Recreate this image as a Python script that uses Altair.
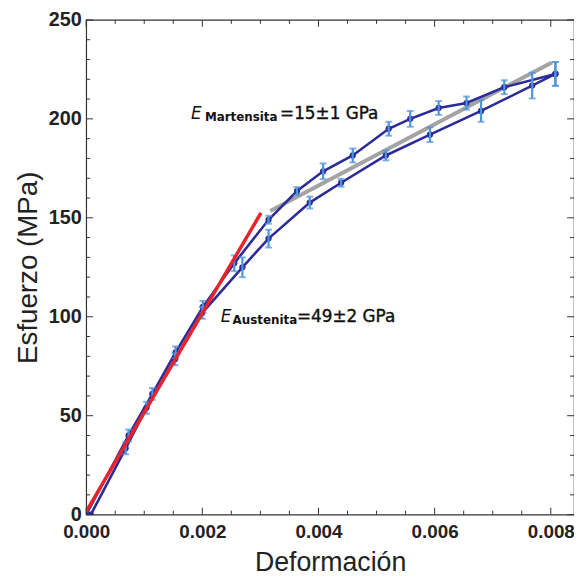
import altair as alt
import pandas as pd

# Loading branch (upper curve) and unloading branch (lower curve)
up_strain = [0.0, 0.00073, 0.00114, 0.00154, 0.00201, 0.00255, 0.00314, 0.00363, 0.00408,
             0.00459, 0.00521, 0.00558, 0.00607, 0.00655, 0.00720, 0.00808]
up_stress = [0, 40, 61, 82, 105, 127, 149, 163.5, 173.5, 181.5, 195, 200, 205.5, 208, 216, 222.7]
up_err = [0, 3, 3, 3, 3, 4, 2, 2, 4, 3.5, 3.5, 4, 3.5, 3.3, 3.5, 6]

low_strain = [0.00808, 0.00768, 0.00680, 0.00592, 0.00516, 0.00439, 0.00385, 0.00314, 0.00269,
              0.00200, 0.00153, 0.00104, 0.00068, 0.00008]
low_stress = [222.7, 216.8, 204, 192, 181.5, 167.7, 157.7, 139.5, 125, 102, 78.5, 54, 33.5, 0]
low_err = [6, 6.5, 5.5, 3.7, 2.5, 2, 3, 4.5, 5, 3, 3, 3, 3, 0]

# Linear fits
aus_strain = [0.0, 0.00301]
aus_stress = [1.5, 152.5]
mar_strain = [0.00317, 0.00802]
mar_stress = [153.5, 228.5]

# Axis ticks
x_major = [0.0, 0.002, 0.004, 0.006, 0.008]
x_minor = [0.0005, 0.001, 0.0015, 0.0025, 0.003, 0.0035, 0.0045, 0.005, 0.0055,
           0.0065, 0.007, 0.0075]
y_major = [0, 50, 100, 150, 200, 250]
y_minor = [10, 20, 30, 40, 60, 70, 80, 90, 110, 120, 130, 140, 160, 170, 180, 190,
           210, 220, 230, 240]

# Annotations: pieces of text (E, subscript, rest)
ann_text = ["E", "Martensita", "=15±1 GPa", "E", "Austenita", "=49±2 GPa"]
ann_x = [0.001806, 0.002044, 0.003339, 0.002317, 0.002521, 0.003629]
ann_y = [200, 199, 200, 97.5, 96.5, 97.5]
ann_kind = ["E", "sub", "rest", "E", "sub", "rest"]

W, H = 493, 500
XDOM = [0, 0.0084]
YDOM = [0, 250]

xs = alt.Scale(domain=XDOM, nice=False, zero=False, padding=0)
ys = alt.Scale(domain=YDOM, nice=False, zero=False, padding=0)

blue = "#2b2c99"
errc = "#4f93d8"

curve = pd.DataFrame({
    "strain": up_strain + low_strain,
    "stress": up_stress + low_stress,
    "err": up_err + low_err,
    "branch": ["carga"] * len(up_strain) + ["descarga"] * len(low_strain),
    "order": list(range(len(up_strain))) + list(range(len(low_strain))),
})
curve["lo"] = curve["stress"] - curve["err"]
curve["hi"] = curve["stress"] + curve["err"]
bars = curve[curve["err"] > 0]

fits = pd.DataFrame({
    "strain": aus_strain + mar_strain,
    "stress": aus_stress + mar_stress,
    "fit": ["A", "A", "M", "M"],
})

xaxis = alt.Axis(values=x_major, format=".3f", ticks=False, domain=False, grid=False,
                 labelFlush=False, labelOverlap=False,
                 labelFont="Liberation Sans", labelFontWeight="bold", labelFontSize=19,
                 labelColor="#222", labelPadding=8,
                 title="Deformación", titleFont="Liberation Sans", titleFontSize=27,
                 titleFontWeight="normal", titleColor="#222", titlePadding=8)
yaxis = alt.Axis(values=y_major, format="d", ticks=False, domain=False, grid=False,
                 labelFlush=False, labelOverlap=False,
                 labelFont="Liberation Sans", labelFontWeight="bold", labelFontSize=20,
                 labelColor="#222", labelPadding=5,
                 title="Esfuerzo (MPa)", titleFont="Liberation Sans", titleFontSize=28,
                 titleFontWeight="normal", titleColor="#222", titlePadding=6)

base = alt.Chart(curve)

gray = alt.Chart(fits[fits["fit"] == "M"]).mark_line(color="#a3a3a3", strokeWidth=4, clip=True).encode(
    x=alt.X("strain:Q", scale=xs, axis=xaxis),
    y=alt.Y("stress:Q", scale=ys, axis=yaxis),
)
red = alt.Chart(fits[fits["fit"] == "A"]).mark_line(color="#e8232b", strokeWidth=3.5, clip=True).encode(
    x=alt.X("strain:Q", scale=xs),
    y=alt.Y("stress:Q", scale=ys),
)

lines = base.mark_line(color=blue, strokeWidth=2.6, clip=True).encode(
    x=alt.X("strain:Q", scale=xs),
    y=alt.Y("stress:Q", scale=ys),
    detail="branch:N",
    order="order:Q",
)
pts = base.mark_circle(color=blue, size=40, opacity=1, clip=True).encode(
    x=alt.X("strain:Q", scale=xs),
    y=alt.Y("stress:Q", scale=ys),
)
ebar = alt.Chart(bars).mark_rule(color=errc, strokeWidth=2.2).encode(
    x=alt.X("strain:Q", scale=xs),
    y=alt.Y("lo:Q", scale=ys),
    y2="hi:Q",
)
cap_lo = alt.Chart(bars).mark_tick(color=errc, orient="horizontal", size=7, thickness=2).encode(
    x=alt.X("strain:Q", scale=xs),
    y=alt.Y("lo:Q", scale=ys),
)
cap_hi = alt.Chart(bars).mark_tick(color=errc, orient="horizontal", size=7, thickness=2).encode(
    x=alt.X("strain:Q", scale=xs),
    y=alt.Y("hi:Q", scale=ys),
)

ann = pd.DataFrame({"t": ann_text, "x": ann_x, "y": ann_y, "k": ann_kind})
ann_E = alt.Chart(ann[ann["k"] == "E"]).mark_text(
    font="DejaVu Sans", fontSize=17, fontStyle="italic", align="left", baseline="alphabetic", color="#111"
).encode(x=alt.X("x:Q", scale=xs), y=alt.Y("y:Q", scale=ys), text="t:N")
ann_sub = alt.Chart(ann[ann["k"] == "sub"]).mark_text(
    font="DejaVu Sans", fontSize=12, fontWeight="bold", align="left", baseline="alphabetic", color="#111"
).encode(x=alt.X("x:Q", scale=xs), y=alt.Y("y:Q", scale=ys), text="t:N")
ann_rest = alt.Chart(ann[ann["k"] == "rest"]).mark_text(
    font="DejaVu Sans", fontSize=17, align="left", baseline="alphabetic", color="#111",
    stroke="#111", strokeWidth=0.4
).encode(x=alt.X("x:Q", scale=xs), y=alt.Y("y:Q", scale=ys), text="t:N")

# inward ticks drawn as rules on all four sides
tc = "#333"
xM = pd.DataFrame({"v": x_major})
xm = pd.DataFrame({"v": x_minor})
yM = pd.DataFrame({"v": y_major})
ym = pd.DataFrame({"v": y_minor})

def xt(df, length, top):
    y0 = 0 if top else H
    y1 = length if top else H - length
    return alt.Chart(df).mark_rule(color=tc, strokeWidth=1).encode(
        x=alt.X("v:Q", scale=xs), y=alt.value(y0), y2=alt.value(y1))

def yt(df, length, right):
    x0 = W if right else 0
    x1 = W - length if right else length
    return alt.Chart(df).mark_rule(color=tc, strokeWidth=1).encode(
        y=alt.Y("v:Q", scale=ys), x=alt.value(x0), x2=alt.value(x1))

ticks = [xt(xM, 7, False), xt(xm, 4, False), xt(xM, 7, True), xt(xm, 4, True),
         yt(yM, 7, False), yt(ym, 4, False), yt(yM, 7, True), yt(ym, 4, True)]

chart = alt.layer(
    gray, lines, pts, ebar, cap_lo, cap_hi, red, ann_E, ann_sub, ann_rest, *ticks
).properties(
    width=W, height=H,
    autosize=alt.AutoSizeParams(type="none"),
    padding={"left": 79, "top": 9, "right": 0, "bottom": 62},
    background="white",
).configure_view(stroke="#333", strokeWidth=1.2)

chart.save("out.html", embed_options={"renderer": "svg", "actions": False})
